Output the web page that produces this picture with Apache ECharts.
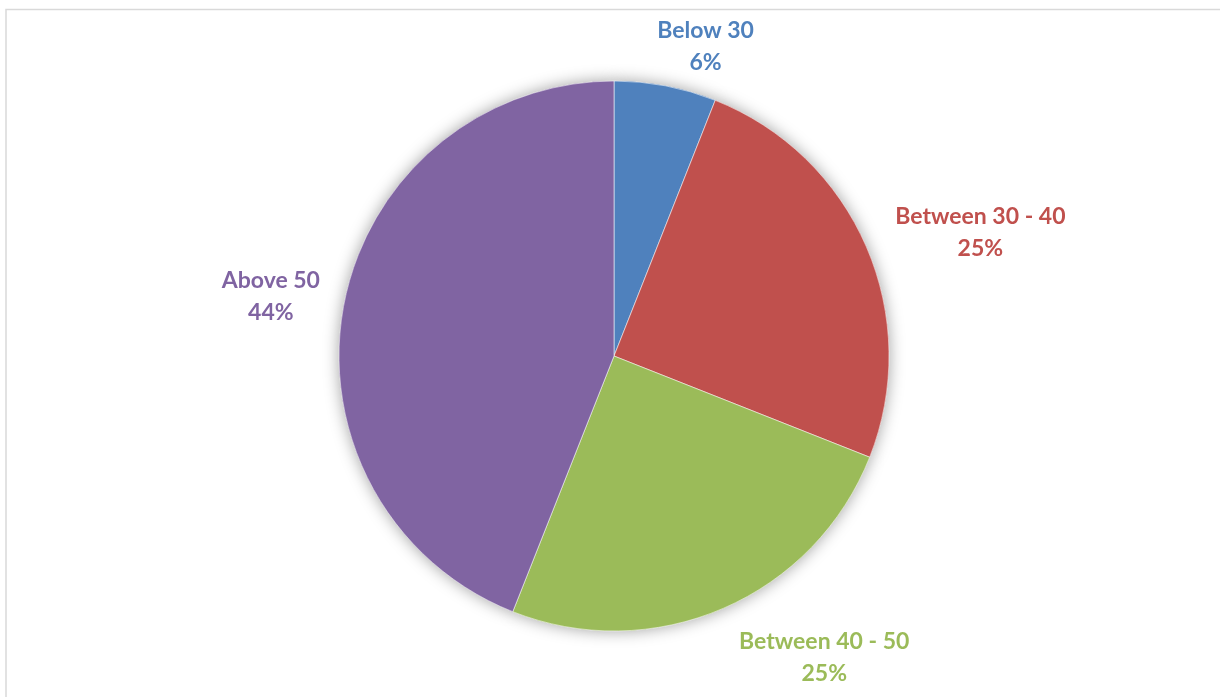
<!DOCTYPE html>
<html>
<head>
<meta charset="utf-8">
<title>Age groups</title>
<script src="https://cdn.jsdelivr.net/npm/echarts@6/dist/echarts.min.js"></script>
<style>
  html, body { margin: 0; padding: 0; background: #ffffff; overflow: hidden; }
  #chart { width: 1220px; height: 697px; }
</style>
</head>
<body>
<div id="chart"></div>
<script>
// Age group shares (percent)
const categories = ['Below 30', 'Between 30 - 40', 'Between 40 - 50', 'Above 50'];
const shares = [6, 25, 25, 44];
const colors = ['#4F81BD', '#C0504D', '#9BBB59', '#8064A2'];
// label nudges from the default outside anchor on the rim
const labelNudges = [[40, -39], [114, -14], [101, 49], [-73, -8]];

const pieData = categories.map((name, i) => ({
  name: name,
  value: shares[i],
  itemStyle: { color: colors[i] },
  label: { color: colors[i] }
}));

const chart = echarts.init(document.getElementById('chart'), null, { renderer: 'canvas' });

chart.setOption({
  animation: false,
  backgroundColor: '#ffffff',
  graphic: [{
    type: 'rect',
    silent: true,
    shape: { x: 6, y: 9.5, width: 1400, height: 900 },
    style: { fill: 'none', stroke: '#d9d9d9', lineWidth: 1.5 }
  }],
  series: [
    {
      // soft glow beneath the pie
      type: 'pie',
      silent: true,
      center: [614, 356],
      radius: [0, 275],
      startAngle: 90,
      clockwise: true,
      z: 1,
      data: pieData,
      label: { show: false },
      labelLine: { show: false },
      itemStyle: { shadowBlur: 16, shadowColor: 'rgba(0,0,0,0.38)' }
    },
    {
      type: 'pie',
      center: [614, 356],
      radius: [0, 275],
      startAngle: 90,
      clockwise: true,
      z: 2,
      avoidLabelOverlap: false,
      data: pieData,
      itemStyle: { borderColor: 'rgba(255,255,255,0.55)', borderWidth: 1 },
      label: {
        show: true,
        position: 'outside',
        alignTo: 'none',
        distanceToLabelLine: 0,
        fontFamily: 'Lato, "Open Sans", sans-serif',
        fontWeight: 'bold',
        fontSize: 23,
        lineHeight: 32,
        formatter: p => p.name + '\n' + Math.round(p.percent) + '%'
      },
      labelLine: { show: false, length: 0, length2: 0 },
      labelLayout: function (params) {
        const n = labelNudges[params.dataIndex];
        return { dx: n[0], dy: n[1], align: 'center', verticalAlign: 'middle' };
      }
    }
  ]
});
</script>
</body>
</html>
